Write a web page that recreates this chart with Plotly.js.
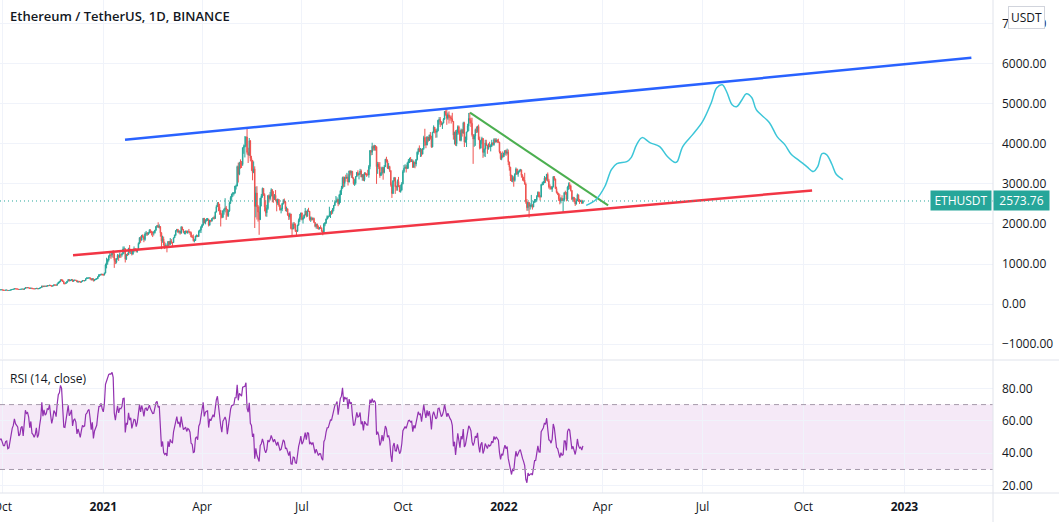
<!DOCTYPE html>
<html>
<head>
<meta charset="utf-8">
<script src="https://cdn.plot.ly/plotly-3.0.1.min.js"></script>
<style>
html,body{margin:0;padding:0;background:#fff;}
#chart{width:1059px;height:522px;}
</style>
</head>
<body>
<div id="chart"></div>
<script>
// ---- Daily ETH/USDT candles (open = previous close) ----
const firstOpen = 408;
const close_2020_08 = [382,386,382,395,399,428,434];
const high_2020_08  = [410,392,396,398,404,432,437];
const low_2020_08   = [373,375,375,378,392,397,421];

const close_2020_09 = [477,440,386,388,335,353,353,337,351,368,374,387,366,377,364,365,389,384,385,370,341,344,320,348,352,355,357,354,359,359];
const high_2020_09  = [488,480,450,405,394,356,358,357,355,376,378,392,388,380,383,374,394,393,393,386,375,346,347,352,357,358,362,365,363,364];
const low_2020_09   = [428,417,370,367,308,325,334,327,335,348,360,369,358,360,360,354,360,376,380,364,334,330,318,315,341,346,345,351,350,352];

const close_2020_10 = [353,346,346,352,353,340,341,350,365,370,375,387,381,379,377,366,368,377,379,368,391,413,409,411,406,393,404,388,386,382,386];
const high_2020_10  = [361,357,350,354,355,354,343,352,369,373,377,389,390,384,383,378,370,378,383,380,396,418,414,418,415,409,406,409,390,388,390];
const low_2020_10   = [345,344,343,344,347,337,335,339,348,364,368,373,377,374,371,364,362,365,374,363,365,388,400,403,400,385,388,382,374,371,379];

const close_2020_11 = [396,383,387,402,415,455,435,453,445,449,463,462,475,461,448,460,481,478,472,510,550,560,608,603,568,518,517,538,575,615];
const high_2020_11  = [399,397,391,405,420,459,458,456,458,458,471,475,476,478,465,462,490,495,481,512,556,569,615,621,614,571,528,543,576,616];
const low_2020_11   = [384,378,378,380,398,412,430,432,433,436,445,450,458,457,441,445,456,463,459,470,506,521,550,578,553,496,490,505,525,570];

const close_2020_12 = [587,598,616,569,596,601,592,554,573,560,545,568,590,586,589,636,642,654,659,638,608,635,584,612,626,635,683,731,732,752,737];
const high_2020_12  = [619,606,627,618,598,607,609,592,575,577,563,572,592,592,596,638,677,662,667,662,640,641,641,619,630,650,693,749,745,755,755];
const low_2020_12   = [565,575,588,556,562,587,587,552,530,552,537,545,567,577,568,588,630,636,643,613,590,598,566,576,603,609,629,693,706,721,714];

const close_2021_01 = [729,775,978,1041,1100,1208,1225,1224,1281,1262,1090,1044,1130,1218,1171,1233,1230,1257,1377,1382,1121,1236,1231,1392,1324,1357,1253,1332,1382,1377,1314];
const high_2021_01  = [749,787,1011,1158,1134,1210,1280,1262,1300,1349,1262,1145,1149,1250,1238,1290,1259,1261,1439,1439,1390,1252,1273,1405,1476,1375,1358,1346,1440,1388,1380];
const low_2021_01   = [715,716,768,893,986,1066,1155,1131,1169,1150,905,1000,1015,1112,1080,1157,1153,1185,1243,1260,1040,1100,1200,1228,1268,1250,1215,1230,1290,1334,1290];

const close_2021_02 = [1369,1515,1660,1594,1718,1677,1614,1751,1769,1744,1783,1843,1814,1800,1778,1781,1848,1937,1959,1919,1935,1780,1571,1626,1475,1446,1459,1417];
const high_2021_02  = [1376,1540,1665,1693,1726,1742,1698,1795,1826,1800,1797,1870,1867,1827,1811,1826,1851,1950,1974,2042,1990,1945,1795,1707,1685,1560,1520,1487];
const low_2021_02   = [1285,1368,1496,1531,1590,1657,1545,1581,1707,1704,1723,1762,1770,1714,1674,1713,1761,1823,1909,1903,1888,1684,1371,1533,1458,1376,1420,1293];

const close_2021_03 = [1564,1491,1575,1541,1534,1654,1723,1835,1868,1799,1826,1772,1924,1854,1792,1806,1823,1782,1814,1806,1783,1680,1670,1583,1588,1701,1714,1687,1817,1846,1919];
const high_2021_03  = [1572,1572,1650,1623,1548,1663,1735,1840,1869,1870,1839,1828,1946,1932,1873,1818,1830,1835,1838,1876,1812,1811,1725,1740,1630,1706,1738,1727,1841,1860,1951];
const low_2021_03   = [1411,1455,1484,1504,1440,1530,1651,1698,1808,1780,1761,1734,1760,1849,1767,1742,1740,1772,1754,1784,1730,1670,1651,1563,1542,1576,1671,1673,1683,1780,1774];

const close_2021_04 = [1977,2143,2027,2093,2108,2115,1971,2089,2072,2136,2158,2139,2301,2431,2515,2420,2338,2237,2163,2331,2363,2403,2364,2210,2326,2534,2662,2745,2756,2772];
const high_2021_04  = [2000,2145,2145,2120,2145,2150,2135,2100,2104,2145,2162,2206,2310,2469,2545,2548,2500,2350,2272,2342,2387,2643,2450,2370,2357,2556,2694,2757,2797,2797];
const low_2021_04   = [1906,1957,2017,1991,2060,2077,1938,1959,2043,2062,2118,2112,2130,2288,2427,2318,2230,1937,2140,2161,2232,2290,2102,2181,2180,2305,2500,2579,2676,2710];

const close_2021_05 = [2945,2948,3431,3240,3522,3491,3484,3903,3929,3953,4168,3786,3716,4079,3638,3587,3282,3375,2439,2773,2431,2299,2108,2644,2706,2888,2736,2419,2279,2386,2707];
const high_2021_05  = [2950,2985,3457,3532,3551,3611,3570,3905,3982,4191,4190,4372,3902,4145,4058,3700,3555,3560,3438,2933,2942,2475,2440,2652,2750,2909,2895,2765,2594,2477,2719];
const low_2021_05   = [2755,2860,2941,3033,3216,3379,3397,3450,3750,3660,3915,3734,3521,3696,3562,3325,3090,3268,1900,2165,2110,2059,1730,2110,2440,2655,2702,2315,2187,2180,2352];

const close_2021_06 = [2634,2707,2856,2689,2630,2715,2594,2517,2609,2471,2353,2373,2510,2590,2549,2367,2373,2225,2177,2251,1889,1874,1995,1985,1831,1818,1973,2087,2169,2275];
const high_2021_06  = [2740,2800,2891,2860,2818,2744,2846,2622,2636,2623,2480,2407,2525,2620,2635,2577,2432,2393,2275,2283,2250,2018,2045,2044,2015,1855,1982,2135,2250,2283];
const low_2021_06   = [2536,2586,2688,2542,2530,2600,2563,2316,2470,2430,2332,2265,2320,2483,2512,2318,2305,2205,2101,2110,1866,1701,1871,1885,1800,1714,1800,1954,2050,2110];

const close_2021_07 = [2113,2150,2226,2322,2197,2325,2317,2115,2146,2111,2139,2036,1940,1995,1916,1877,1898,1895,1819,1788,1995,2028,2123,2187,2191,2233,2300,2299,2382,2464,2537];
const high_2021_07  = [2285,2190,2239,2400,2326,2365,2404,2326,2186,2180,2164,2158,2042,2006,2007,1964,1926,1965,1917,1844,2025,2045,2137,2215,2200,2430,2320,2345,2399,2470,2590];
const low_2021_07   = [2090,2011,2134,2222,2166,2179,2300,2083,2052,2080,2094,2030,1917,1883,1874,1859,1864,1884,1798,1718,1777,1943,2000,2112,2140,2180,2150,2232,2253,2321,2449];

const close_2021_08 = [2561,2610,2504,2723,2828,2890,3157,3012,3163,3142,3165,3048,3322,3266,3311,3148,3011,3017,3182,3286,3226,3242,3324,3173,3228,3101,3274,3244,3226,3225,3433];
const high_2021_08  = [2698,2665,2630,2750,2840,2950,3180,3185,3178,3230,3275,3240,3330,3340,3333,3325,3162,3118,3185,3290,3339,3275,3375,3360,3246,3248,3290,3287,3262,3352,3472];
const low_2021_08   = [2536,2546,2444,2484,2527,2725,2880,2915,2925,3056,3127,2960,3035,3210,3151,3135,2980,2950,2980,3170,3199,3112,3238,3165,3080,3070,3063,3217,3175,3215,3155];

const close_2021_09 = [3834,3789,3937,3887,3952,3927,3429,3497,3426,3208,3266,3410,3286,3429,3616,3569,3398,3434,3332,2977,2759,3077,3155,2930,2925,3063,2932,2807,2849,3001];
const high_2021_09  = [3840,3839,4027,3962,3976,3970,3933,3550,3545,3543,3294,3430,3410,3470,3623,3677,3609,3518,3452,3339,3038,3093,3174,3162,2959,3110,3174,2968,2983,3045];
const low_2021_09   = [3366,3712,3720,3830,3829,3828,3000,3250,3370,3150,3195,3230,3105,3262,3425,3532,3374,3365,3295,2930,2650,2752,3061,2751,2830,2830,2920,2795,2781,2830];

const close_2021_10 = [3308,3391,3418,3382,3516,3577,3586,3560,3576,3414,3543,3496,3607,3790,3868,3829,3844,3744,3877,4155,4056,3972,4168,4083,4217,4131,3923,4287,4415,4325,4288];
const high_2021_10  = [3350,3470,3490,3470,3542,3620,3653,3670,3623,3610,3583,3540,3620,3810,3900,3960,3897,3880,3895,4200,4375,4170,4195,4140,4232,4293,4199,4300,4460,4420,4372];
const low_2021_10   = [2990,3275,3380,3285,3380,3380,3520,3540,3555,3398,3406,3390,3436,3585,3730,3792,3672,3681,3734,3850,3950,3890,3960,4040,4072,4105,3900,3910,4270,4260,4150];

const close_2021_11 = [4323,4587,4604,4534,4475,4518,4613,4808,4732,4636,4723,4667,4648,4624,4561,4215,4290,3999,4296,4427,4268,4087,4341,4270,4523,4042,4097,4295,4444,4632];
const high_2021_11  = [4380,4600,4665,4668,4567,4530,4640,4815,4836,4868,4780,4809,4706,4705,4773,4565,4300,4340,4353,4460,4456,4330,4380,4370,4550,4550,4180,4300,4500,4770];
const low_2021_11   = [4155,4310,4477,4420,4465,4370,4510,4600,4700,4474,4600,4505,4578,4505,4550,4105,3982,3950,3940,4225,4232,4065,4060,4180,4250,3920,4032,3920,4295,4320];

const close_2021_12 = [4586,4512,4226,4119,4194,4353,4309,4431,4111,3893,4080,4134,3785,3862,4021,3961,3877,3961,3922,3942,4019,3982,4109,4046,4094,4066,4038,3799,3629,3711,3677];
const high_2021_12  = [4778,4650,4650,4240,4240,4380,4430,4450,4480,4180,4090,4175,4110,3885,4100,4100,3980,4010,4050,3990,4100,4040,4140,4140,4140,4110,4128,4050,3810,3770,3810];
const low_2021_12   = [4510,4420,4180,3500,3925,3950,4270,4280,4090,3860,3880,3990,3650,3685,3670,3955,3750,3855,3920,3810,3919,3960,3950,4020,4040,4021,4030,3760,3600,3590,3650];

const close_2022_01 = [3770,3830,3762,3794,3549,3417,3198,3080,3155,3086,3240,3372,3246,3308,3331,3351,3212,3165,3094,2997,2561,2407,2540,2439,2459,2465,2423,2546,2602,2604,2688];
const high_2022_01  = [3775,3845,3856,3880,3856,3550,3426,3230,3215,3190,3266,3410,3380,3330,3360,3375,3355,3240,3173,3278,3035,2623,2544,2540,2515,2725,2495,2568,2623,2623,2720];
const low_2022_01   = [3675,3720,3700,3730,3470,3330,3072,3050,3040,2930,3055,3225,3225,3178,3280,3304,3155,3080,3060,2980,2506,2330,2330,2159,2360,2415,2360,2420,2528,2536,2560];

const close_2022_02 = [2792,2680,2677,2985,3013,3057,3144,3124,3241,3079,2926,2917,2872,2930,3182,3124,2885,2785,2764,2630,2575,2640,2589,2598,2780,2778,2619,2920];
const high_2022_02  = [2812,2806,2725,2994,3050,3070,3198,3165,3242,3285,3125,2990,2950,2945,3190,3195,3131,2930,2810,2763,2740,2670,2716,2650,2800,2830,2800,2940];
const low_2022_02   = [2673,2660,2585,2665,2960,2970,3017,3025,3080,3058,2883,2857,2858,2800,2910,3080,2870,2760,2720,2575,2490,2515,2570,2300,2580,2730,2565,2580];

const close_2022_03 = [2972,2950,2835,2620,2664,2556,2497,2575,2728,2608,2558,2571,2518,2573.76];
const high_2022_03  = [3035,3042,2985,2845,2680,2668,2645,2630,2760,2730,2625,2600,2605,2600];
const low_2022_03   = [2852,2867,2810,2594,2585,2542,2450,2485,2580,2550,2500,2550,2505,2505];

const months = [
  ['2020-08',25,close_2020_08,high_2020_08,low_2020_08],
  ['2020-09',1,close_2020_09,high_2020_09,low_2020_09],
  ['2020-10',1,close_2020_10,high_2020_10,low_2020_10],
  ['2020-11',1,close_2020_11,high_2020_11,low_2020_11],
  ['2020-12',1,close_2020_12,high_2020_12,low_2020_12],
  ['2021-01',1,close_2021_01,high_2021_01,low_2021_01],
  ['2021-02',1,close_2021_02,high_2021_02,low_2021_02],
  ['2021-03',1,close_2021_03,high_2021_03,low_2021_03],
  ['2021-04',1,close_2021_04,high_2021_04,low_2021_04],
  ['2021-05',1,close_2021_05,high_2021_05,low_2021_05],
  ['2021-06',1,close_2021_06,high_2021_06,low_2021_06],
  ['2021-07',1,close_2021_07,high_2021_07,low_2021_07],
  ['2021-08',1,close_2021_08,high_2021_08,low_2021_08],
  ['2021-09',1,close_2021_09,high_2021_09,low_2021_09],
  ['2021-10',1,close_2021_10,high_2021_10,low_2021_10],
  ['2021-11',1,close_2021_11,high_2021_11,low_2021_11],
  ['2021-12',1,close_2021_12,high_2021_12,low_2021_12],
  ['2022-01',1,close_2022_01,high_2022_01,low_2022_01],
  ['2022-02',1,close_2022_02,high_2022_02,low_2022_02],
  ['2022-03',1,close_2022_03,high_2022_03,low_2022_03]
];

// ---- Drawn lines (date, price) ----
const upperLineX = ['2021-01-20 19:00','2023-03-03'];
const upperLineY = [4104, 6144];
const lowerLineX = ['2020-12-04 10:00','2022-10-08 21:00'];
const lowerLineY = [1219, 2836];
const downLineX  = ['2021-12-01 04:00','2022-04-06'];
const downLineY  = [4776, 2463];

const pathX = ['2022-03-17','2022-03-26','2022-04-03','2022-04-09','2022-04-14','2022-04-23','2022-04-27','2022-05-02','2022-05-07','2022-05-14',
  '2022-05-23','2022-05-30','2022-06-06','2022-06-08','2022-06-13','2022-06-22','2022-07-01','2022-07-09','2022-07-14','2022-07-19',
  '2022-07-23','2022-07-28','2022-08-01','2022-08-06','2022-08-10','2022-08-15','2022-08-19','2022-08-31','2022-09-07','2022-09-14',
  '2022-09-20','2022-09-26','2022-10-04','2022-10-10','2022-10-14','2022-10-18','2022-10-22','2022-10-27','2022-10-31','2022-11-06'];
const pathY = [2463,2612,2935,3358,3507,3557,3657,3980,4154,4030,
  3930,3682,3532,3557,3930,4229,4552,5025,5398,5473,
  5299,4975,4925,5100,5249,5149,4851,4527,4179,3980,
  3731,3607,3433,3308,3433,3756,3731,3483,3234,3109];

const lastPrice = 2573.76;
const xTickVals = ['2020-10-01','2021-01-01','2021-04-01','2021-07-01','2021-10-01','2022-01-01','2022-04-01','2022-07-01','2022-10-01','2023-01-01'];
const xTickText = ['Oct','<b>2021</b>','Apr','Jul','Oct','<b>2022</b>','Apr','Jul','Oct','<b>2023</b>'];
const priceTicks = [-1000,0,1000,2000,3000,4000,5000,6000,7000];
const rsiTicks = [20,40,60,80];

// ---- build series ----
const dates=[], close=[], high=[], low=[];
months.forEach(([ym, d0, c, h, l]) => {
  c.forEach((v,i) => {
    dates.push(ym + '-' + String(d0+i).padStart(2,'0'));
    close.push(v); high.push(h[i]); low.push(l[i]);
  });
});
const open = [firstOpen].concat(close.slice(0, -1));

// RSI(14) with Wilder smoothing
const rsiX=[], rsiY=[];
(function(){
  const n=14; let ag=0, al=0;
  for (let i=1;i<close.length;i++){
    const ch = close[i]-close[i-1];
    const g = ch>0?ch:0, lo = ch<0?-ch:0;
    if (i<=n){ ag+=g/n; al+=lo/n; }
    else { ag=(ag*(n-1)+g)/n; al=(al*(n-1)+lo)/n; }
    if (i>=n){ rsiX.push(dates[i]); rsiY.push(al===0?100:100-100/(1+ag/al)); }
  }
})();

const FONT = 'Open Sans, Noto Sans, sans-serif';
const TEAL = '#26a69a';

const traces = [
  {type:'candlestick', x:dates, open:open, high:high, low:low, close:close, xaxis:'x', yaxis:'y',
   increasing:{line:{color:TEAL,width:1}, fillcolor:TEAL},
   decreasing:{line:{color:'#ef5350',width:1}, fillcolor:'#ef5350'},
   whiskerwidth:0, hoverinfo:'skip'},
  {type:'scatter', mode:'lines', x:upperLineX, y:upperLineY, line:{color:'#2962ff',width:2.5}, xaxis:'x', yaxis:'y', hoverinfo:'skip'},
  {type:'scatter', mode:'lines', x:lowerLineX, y:lowerLineY, line:{color:'#f23645',width:2.5}, xaxis:'x', yaxis:'y', hoverinfo:'skip'},
  {type:'scatter', mode:'lines', x:downLineX, y:downLineY, line:{color:'#4caf50',width:2}, xaxis:'x', yaxis:'y', hoverinfo:'skip'},
  {type:'scatter', mode:'lines', x:pathX, y:pathY, line:{color:'#3cc6d8',width:1.5,shape:'spline',smoothing:1}, xaxis:'x', yaxis:'y', hoverinfo:'skip'},
  {type:'scatter', mode:'lines', x:rsiX, y:rsiY, line:{color:'#9231b0',width:1.2}, xaxis:'x', yaxis:'y2', hoverinfo:'skip'}
];

const PH = 493; // plot height in px
const layout = {
  width:1059, height:522,
  margin:{l:0, r:66, t:0, b:29},
  paper_bgcolor:'#ffffff', plot_bgcolor:'#ffffff',
  showlegend:false,
  font:{family:FONT, size:12, color:'#131722'},
  xaxis:{type:'date', anchor:'y2', range:['2020-09-28 21:00','2023-03-22 17:00'],
    tickmode:'array', tickvals:xTickVals, ticktext:xTickText, ticks:'', ticklabeloverflow:'allow', ticklabelstandoff:5,
    showgrid:true, gridcolor:'#f0f3fa', zeroline:false, showline:false,
    rangeslider:{visible:false}, tickfont:{family:FONT,size:12,color:'#131722'}},
  yaxis:{domain:[1-360/PH+0.002, 1], range:[-1368, 7587], side:'right', anchor:'x',
    tickmode:'array', tickvals:priceTicks, tickformat:'.2f', ticks:'', ticklabelstandoff:8,
    showgrid:true, gridcolor:'#f0f3fa', zeroline:false, showline:false,
    tickfont:{family:FONT,size:12,color:'#131722'}},
  yaxis2:{domain:[0, 1-360/PH], range:[15.5, 97.5], side:'right', anchor:'x',
    tickmode:'array', tickvals:rsiTicks, tickformat:'.2f', ticks:'', ticklabelstandoff:8,
    showgrid:true, gridcolor:'#f0f3fa', zeroline:false, showline:false,
    tickfont:{family:FONT,size:12,color:'#131722'}},
  shapes:[
    {type:'rect', xref:'paper', yref:'y2', x0:0, x1:1, y0:30, y1:70, fillcolor:'rgba(156,39,176,0.10)', line:{width:0}, layer:'below'},
    {type:'line', xref:'paper', yref:'y2', x0:0, x1:1, y0:70, y1:70, line:{color:'#a59aab',width:1,dash:'5px,4px'}},
    {type:'line', xref:'paper', yref:'y2', x0:0, x1:1, y0:30, y1:30, line:{color:'#a59aab',width:1,dash:'5px,4px'}},
    {type:'line', xref:'paper', yref:'y', x0:0, x1:1, y0:lastPrice, y1:lastPrice, line:{color:TEAL,width:1,dash:'1px,3px'}},
    {type:'line', xref:'paper', yref:'paper', x0:0, x1:1059/993, y0:1-360/PH, y1:1-360/PH, line:{color:'#e0e3eb',width:1}},
    {type:'line', xref:'paper', yref:'paper', x0:0, x1:1059/993, y0:0, y1:0, line:{color:'#e0e3eb',width:1}},
    {type:'line', xref:'paper', yref:'paper', x0:1, x1:1, y0:-29/PH, y1:1, line:{color:'#e0e3eb',width:1}}
  ],
  annotations:[
    {xref:'paper', yref:'paper', x:8/993, y:1-16/PH, xanchor:'left', yanchor:'middle', showarrow:false,
     text:'Ethereum / TetherUS, 1D, BINANCE', font:{family:FONT, size:13, color:'#131722', weight:600}},
    {xref:'paper', yref:'paper', x:8/993, y:1-378/PH, xanchor:'left', yanchor:'middle', showarrow:false,
     text:'RSI (14, close)', font:{family:FONT, size:12, color:'#131722'}},
    {xref:'paper', yref:'y', x:992/993, y:lastPrice, xanchor:'right', yanchor:'middle', showarrow:false,
     text:'ETHUSDT', bgcolor:TEAL, borderpad:1, width:58, font:{family:FONT, size:12, color:'#ffffff'}},
    {xref:'paper', yref:'y', x:1, y:lastPrice, xanchor:'left', yanchor:'middle', showarrow:false,
     text:String(lastPrice), bgcolor:TEAL, borderpad:1, width:53, font:{family:FONT, size:12, color:'#ffffff'}},
    {xref:'paper', yref:'paper', x:1026/993, y:1-17.5/PH, xanchor:'center', yanchor:'middle', showarrow:false,
     text:'USDT', bgcolor:'#ffffff', bordercolor:'#d1d4dc', borderwidth:1, borderpad:2, font:{family:FONT, size:12, color:'#131722'}}
  ]
};

Plotly.newPlot('chart', traces, layout, {staticPlot:true, displayModeBar:false});
</script>
</body>
</html>
